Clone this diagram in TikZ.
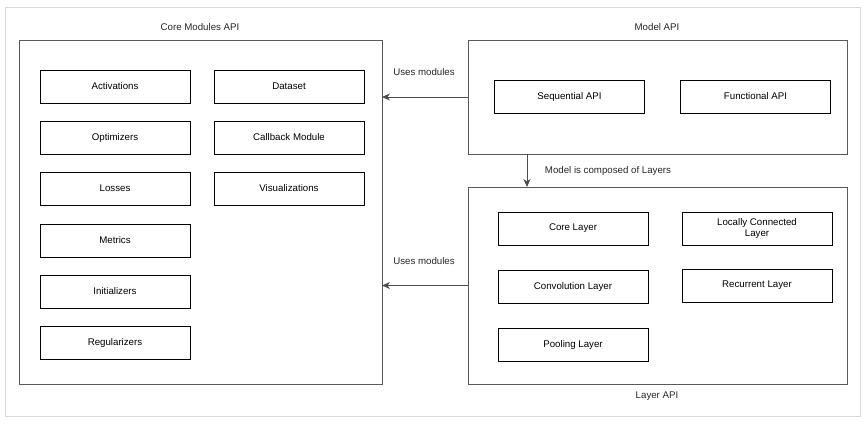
\documentclass[tikz,border=0pt]{standalone}
\usepackage{fontspec}
\setmainfont{Liberation Sans}
\usetikzlibrary{arrows.meta}
\begin{document}
\begin{tikzpicture}[x=1pt,y=-1pt,
  every node/.style={font=\fontsize{9.7}{11.5}\selectfont, inner sep=0pt, outer sep=0pt},
  modbox/.style={draw=black, line width=0.8pt, minimum width=150pt, minimum height=33pt, align=center},
  apibox/.style={draw=black!65, line width=0.9pt},
  lbl/.style={text=black!85},
  conn/.style={draw=black!70, line width=0.9pt, -{Stealth[length=8pt,width=7pt,inset=2.5pt]}}
]
\useasboundingbox (0,0) rectangle (866,425);
\draw[black!15, line width=0.8pt] (5,7) rectangle (860,416);

% big containers
\node[apibox, minimum width=363pt, minimum height=344pt] (core) at (200.5,212) {};
\node[apibox, minimum width=379pt, minimum height=114pt] (model) at (657.5,97) {};
\node[apibox, minimum width=379pt, minimum height=197pt] (layer) at (657.5,285.5) {};

\node[lbl] (coret) at (200,27) {Core Modules API};
\node[lbl] (modelt) at (657,27) {Model API};
\node[lbl] (layert) at (657,396) {Layer API};

% core modules
\node[modbox] (act) at (115,86.5) {Activations};
\node[modbox] (opt) at (115,137.5) {Optimizers};
\node[modbox] (loss) at (115,188.5) {Losses};
\node[modbox] (met) at (115,240.5) {Metrics};
\node[modbox] (init) at (115,291.5) {Initializers};
\node[modbox] (reg) at (115,342.5) {Regularizers};
\node[modbox] (data) at (289,86.5) {Dataset};
\node[modbox] (cb) at (289,137.5) {Callback Module};
\node[modbox] (vis) at (289,188.5) {Visualizations};

% model api
\node[modbox] (seq) at (569.5,96.5) {Sequential API};
\node[modbox] (func) at (755.5,96.5) {Functional API};

% layer api
\node[modbox] (corel) at (573,228.5) {Core Layer};
\node[modbox] (loc) at (757,228.5) {Locally Connected\\Layer};
\node[modbox] (conv) at (573,286.5) {Convolution Layer};
\node[modbox] (rec) at (757,285.5) {Recurrent Layer};
\node[modbox] (pool) at (573,344.5) {Pooling Layer};

% connectors
\draw[conn] (model.west) -- (model.west -| core.east);
\draw[conn] (layer.west) -- (layer.west -| core.east);
\draw[conn] ([xshift=-130.5pt]model.south) -- ([xshift=-130.5pt]layer.north);

\node[lbl] (u1) at (424,72) {Uses modules};
\node[lbl] (u2) at (424,261) {Uses modules};
\node[lbl] (comp) at (608,171) {Model is composed of Layers};
\end{tikzpicture}
\end{document}
